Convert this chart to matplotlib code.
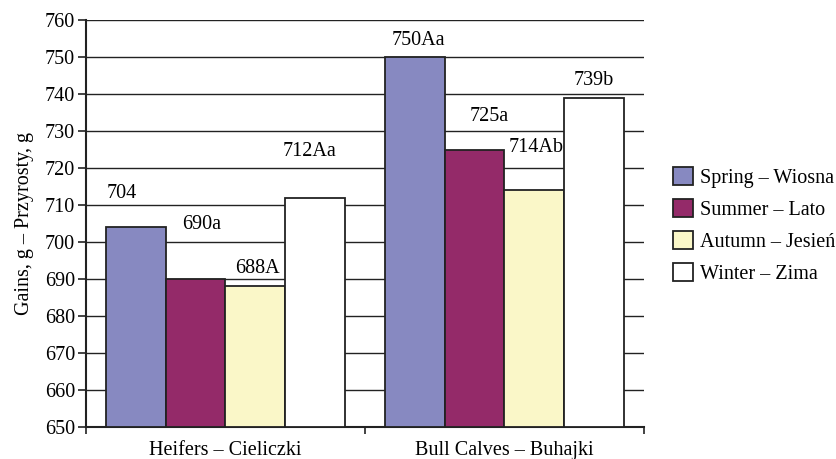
import numpy as np
import matplotlib
matplotlib.use("Agg")
import matplotlib.pyplot as plt
from matplotlib.ticker import MultipleLocator, FixedLocator

plt.rcParams['font.family'] = ['Liberation Serif', 'DejaVu Serif']

# data
groups = ["Heifers – Cieliczki", "Bull Calves – Buhajki"]
seasons = ["Spring – Wiosna", "Summer – Lato", "Autumn – Jesień", "Winter – Zima"]
gains = {
    "Spring – Wiosna": [704, 750],
    "Summer – Lato": [690, 725],
    "Autumn – Jesień": [688, 714],
    "Winter – Zima": [712, 739],
}
labels = {
    "Spring – Wiosna": ["704", "750Aa"],
    "Summer – Lato": ["690a", "725a"],
    "Autumn – Jesień": ["688A", "714Ab"],
    "Winter – Zima": ["712Aa", "739b"],
}

# styling
colors = ["#8789C1", "#942A69", "#FAF7C8", "#FFFFFF"]
# label offsets in pixels (dx, dy) from the bar top, per season and group
label_off = {
    "Spring – Wiosna": [(-14, 34), (3, 17)],
    "Summer – Lato": [(6, 55), (14, 33)],
    "Autumn – Jesień": [(2, 18), (2, 43)],
    "Winter – Zima": [(-5, 46), (0, 17)],
}
fs = 14.5

fig = plt.figure(figsize=(8.37, 4.59), dpi=100)
ax = fig.add_axes([86 / 837, 32 / 459, 558 / 837, 407 / 459])

x = np.arange(len(groups))
width = 0.2133
px2pt = 72 / 100

for i, s in enumerate(seasons):
    pos = x + (i - 1.5) * width
    ax.bar(pos, np.array(gains[s]) - 650, width, bottom=650, color=colors[i],
           edgecolor="#222222", linewidth=1.3, label=s, zorder=3)
    for j in range(len(groups)):
        dx, dy = label_off[s][j]
        ax.annotate(labels[s][j], (pos[j], gains[s][j]),
                    xytext=(dx * px2pt, dy * px2pt), textcoords="offset points",
                    ha="center", va="center", fontsize=fs, zorder=4)

ax.set_ylim(650, 760)
ax.set_xlim(-0.5, 1.5)
ax.yaxis.set_major_locator(MultipleLocator(10))
ax.grid(axis="y", color="#222222", linewidth=1.0, zorder=0)

ax.set_xticks(x)
ax.set_xticklabels(groups)
ax.xaxis.set_minor_locator(FixedLocator([-0.5, 0.5, 1.5]))
ax.tick_params(axis="x", which="major", length=0, pad=10, labelsize=fs)
ax.tick_params(axis="x", which="minor", length=5, width=1.2, color="#222222", direction="out")
ax.tick_params(axis="y", length=6, width=1.2, color="#222222", labelsize=fs, pad=2)

for side in ["top", "right"]:
    ax.spines[side].set_visible(False)
for side in ["left", "bottom"]:
    ax.spines[side].set_linewidth(1.5)
    ax.spines[side].set_color("#222222")

ax.set_ylabel("Gains, g – Przyrosty, g", fontsize=fs, labelpad=8)

fig.legend(loc="upper left", bbox_to_anchor=(673 / 837, 1 - 167 / 459),
           frameon=False, fontsize=fs, handlelength=1.0, handleheight=1.0,
           handletextpad=0.33, labelspacing=0.55, borderpad=0, borderaxespad=0)

fig.savefig("out.png", dpi=100)
